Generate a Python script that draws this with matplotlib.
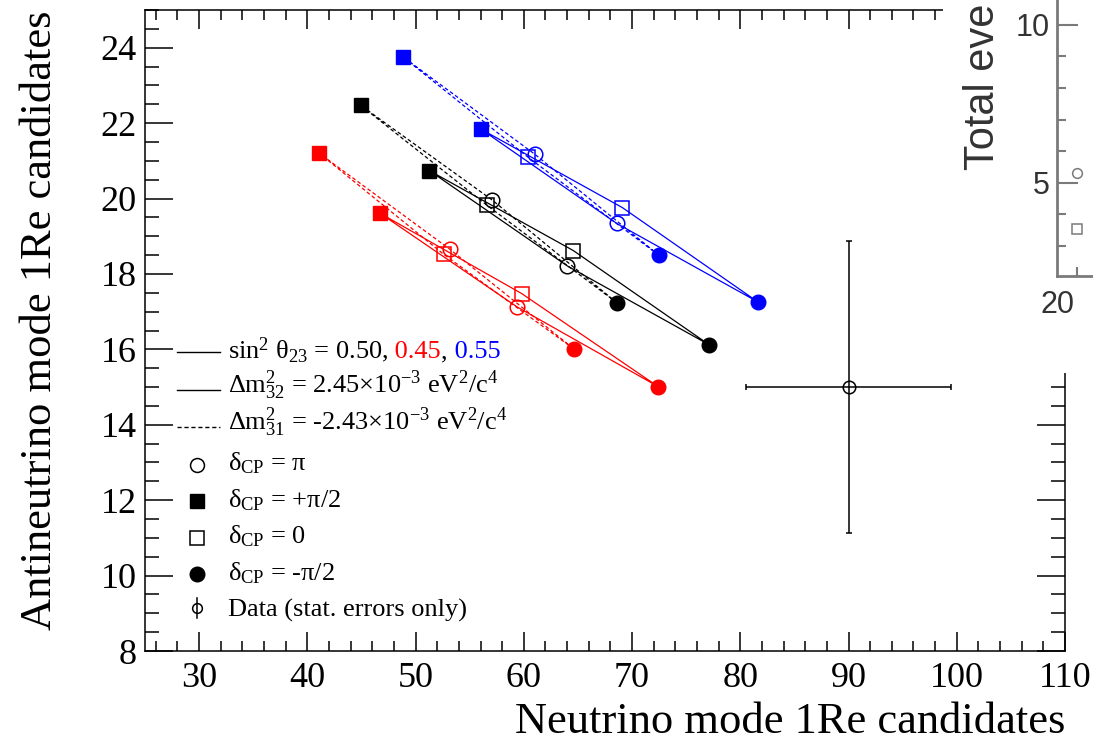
import matplotlib
matplotlib.use("Agg")
import matplotlib.pyplot as plt
from matplotlib.lines import Line2D
from matplotlib.patches import Rectangle
from matplotlib.ticker import MultipleLocator, FixedLocator

plt.rcParams['font.family'] = ['Liberation Serif', 'DejaVu Serif']
plt.rcParams['mathtext.fontset'] = 'custom'
plt.rcParams['mathtext.rm'] = 'Liberation Serif'
plt.rcParams['mathtext.it'] = 'Liberation Serif:italic'
plt.rcParams['mathtext.bf'] = 'Liberation Serif:bold'

# predicted event counts, delta_CP order: -pi/2, 0, +pi/2, pi
# sin^2 theta23 = 0.50
nu_050_nh = [77.13, 64.57, 51.27, 64.03]
nubar_050_nh = [16.12, 18.62, 20.74, 18.21]
nu_050_ih = [68.58, 56.60, 44.93, 57.08]
nubar_050_ih = [17.24, 19.82, 22.47, 19.96]
# sin^2 theta23 = 0.45
nu_045_nh = [72.42, 59.80, 46.71, 59.41]
nubar_045_nh = [15.01, 17.48, 19.61, 17.12]
nu_045_ih = [64.63, 52.60, 41.10, 53.14]
nubar_045_ih = [16.01, 18.52, 21.20, 18.66]
# sin^2 theta23 = 0.55
nu_055_nh = [81.61, 69.10, 56.04, 68.58]
nubar_055_nh = [17.26, 19.76, 21.84, 19.34]
nu_055_ih = [72.46, 60.37, 48.86, 60.99]
nubar_055_ih = [18.50, 21.10, 23.75, 21.18]

# observed data
data_nu = [90]
data_nubar = [15]
data_nu_err = [9.49]
data_nubar_err = [3.87]

# other panel peeking in on the right
side_x = [21, 21]
side_y = [5.32, 3.54]

legend_labels = [
    r'$\Delta$m$^{2}_{32}$ = 2.45$\times$10$^{-3}$ eV$^{2}$/c$^{4}$',
    r'$\Delta$m$^{2}_{31}$ = -2.43$\times$10$^{-3}$ eV$^{2}$/c$^{4}$',
    r'δ$_{\mathrm{CP}}$ = π',
    r'δ$_{\mathrm{CP}}$ = +π/2',
    r'δ$_{\mathrm{CP}}$ = 0',
    r'δ$_{\mathrm{CP}}$ = -π/2',
    'Data (stat. errors only)',
]

W, H = 1093, 747
fig = plt.figure(figsize=(W / 100, H / 100), dpi=100)


def fx(px):
    return px / W


def fy(py):
    return 1 - py / H


ax = fig.add_axes([fx(145), fy(651), (1065 - 145) / W, (651 - 10) / H])

series = [
    (nu_050_nh, nubar_050_nh, 'black', '-'),
    (nu_050_ih, nubar_050_ih, 'black', '--'),
    (nu_045_nh, nubar_045_nh, 'red', '-'),
    (nu_045_ih, nubar_045_ih, 'red', '--'),
    (nu_055_nh, nubar_055_nh, 'blue', '-'),
    (nu_055_ih, nubar_055_ih, 'blue', '--'),
]
for nu, nubar, c, ls in series:
    line, = ax.plot(nu + nu[:1], nubar + nubar[:1], color=c, lw=0.9, ls=ls)
    if ls == '--':
        line.set_dashes((3, 2))
    ax.plot(nu[0], nubar[0], 'o', color=c, ms=10.5, mec=c)
    ax.plot(nu[1], nubar[1], 's', mfc='none', mec=c, ms=9.5, mew=1.1)
    ax.plot(nu[2], nubar[2], 's', color=c, ms=9.5, mec=c)
    ax.plot(nu[3], nubar[3], 'o', mfc='none', mec=c, ms=10.5, mew=1.1)

ax.errorbar(data_nu, data_nubar, xerr=data_nu_err, yerr=data_nubar_err,
            fmt='o', mfc='none', mec='black', ms=9, mew=1.1, color='black',
            lw=1.1, capsize=2.5, capthick=1.1)

ax.set_xlim(25, 110)
ax.set_ylim(8, 25)
ax.xaxis.set_major_locator(MultipleLocator(10))
ax.xaxis.set_minor_locator(MultipleLocator(2))
ax.yaxis.set_major_locator(MultipleLocator(2))
ax.yaxis.set_minor_locator(MultipleLocator(0.5))
ax.tick_params(which='both', direction='in', top=True, right=True,
               labelsize=26, width=1.1)
ax.tick_params(axis='x', which='major', length=14, pad=8)
ax.tick_params(axis='x', which='minor', length=7)
ax.tick_params(axis='y', which='major', length=20, pad=6)
ax.tick_params(axis='y', which='minor', length=10)
for sp in ax.spines.values():
    sp.set_linewidth(1.1)

fig.text(fx(1065), fy(722), 'Neutrino mode 1Re candidates', fontsize=32,
         ha='right', va='center')
fig.text(fx(40), fy(10), 'Antineutrino mode 1Re candidates', fontsize=32,
         rotation=90, ha='center', va='top')

# legend, drawn by hand like the ROOT one
lx0, lx1, lmx, ltx = 177, 220, 197, 228
fig.add_artist(Line2D([fx(lx0), fx(lx1)], [fy(352), fy(352)], color='black', lw=1))
fig.add_artist(Line2D([fx(lx0), fx(lx1)], [fy(390), fy(390)], color='black', lw=1))
fig.add_artist(Line2D([fx(lx0), fx(lx1)], [fy(427), fy(427)], color='black', lw=1,
                      dashes=(3, 2)))
fig.add_artist(Line2D([fx(lmx)], [fy(465)], marker='o', mfc='none', mec='black',
                      ms=10, mew=1.1))
fig.add_artist(Line2D([fx(lmx)], [fy(501)], marker='s', color='black', ms=9.5))
fig.add_artist(Line2D([fx(lmx)], [fy(538)], marker='s', mfc='none', mec='black',
                      ms=9.5, mew=1.1))
fig.add_artist(Line2D([fx(lmx)], [fy(574)], marker='o', color='black', ms=10.5))
fig.add_artist(Line2D([fx(lmx), fx(lmx)], [fy(598), fy(618)], color='black', lw=1.1))
fig.add_artist(Line2D([fx(lmx)], [fy(608)], marker='o', mfc='none', mec='black',
                      ms=7, mew=1.1))

fs_leg = 19
pieces = [(r'sin$^{2}$ θ$_{23}$ = 0.50,', 'black'), (' 0.45', 'red'),
          (',', 'black'), (' 0.55', 'blue')]
renderer = fig.canvas.get_renderer()
xcur = fx(ltx)
for txt, c in pieces:
    t = fig.text(xcur, fy(358), txt, fontsize=fs_leg, color=c, va='baseline')
    bb = t.get_window_extent(renderer)
    xcur = fig.transFigure.inverted().transform((bb.x1, bb.y0))[0]

for txt, by in zip(legend_labels, [393, 430, 470, 507, 543, 580, 617]):
    fig.text(fx(ltx), fy(by), txt, fontsize=fs_leg, va='baseline')

# cover for the neighbouring figure panel
fig.add_artist(Rectangle((fx(943), fy(373)), (W - 943) / W, 373 / H,
                         transform=fig.transFigure, facecolor='white',
                         edgecolor='none', zorder=5))

gray = '#7a7a7a'
ax2 = fig.add_axes([fx(1057), fy(276), 100 / W, 400 / H])
ax2.set_zorder(10)
ax2.patch.set_alpha(0)
ax2.plot(side_x[:1], side_y[:1], 'o', mfc='none', mec=gray, ms=7, mew=1.1,
         clip_on=False)
ax2.plot(side_x[1:], side_y[1:], 's', mfc='none', mec=gray, ms=6.5, mew=1.1,
         clip_on=False)
ax2.set_xlim(20, 25)
ax2.set_ylim(2.05, 2.05 + 400 / 31.6)
for s in ['top', 'right']:
    ax2.spines[s].set_visible(False)
for s in ['left', 'bottom']:
    ax2.spines[s].set_color(gray)
    ax2.spines[s].set_linewidth(2)
ax2.xaxis.set_major_locator(FixedLocator([20]))
ax2.xaxis.set_minor_locator(FixedLocator([21]))
ax2.yaxis.set_major_locator(MultipleLocator(5))
ax2.yaxis.set_minor_locator(MultipleLocator(1))
ax2.tick_params(which='both', direction='in', color=gray, width=1.5,
                labelcolor='#333333', labelsize=22)
ax2.tick_params(axis='y', which='major', length=15, pad=5)
ax2.tick_params(axis='y', which='minor', length=6.5)
ax2.tick_params(axis='x', which='major', length=0, pad=10)
ax2.tick_params(axis='x', which='minor', length=6.5)
for lab in ax2.get_xticklabels() + ax2.get_yticklabels():
    lab.set_family('Liberation Sans')
t2 = fig.text(fx(983), fy(170), 'Total eve', fontsize=30, rotation=90,
              ha='center', va='bottom', color='#333333', family='Liberation Sans')
t2.set_zorder(11)

fig.savefig('out.png', dpi=100)
